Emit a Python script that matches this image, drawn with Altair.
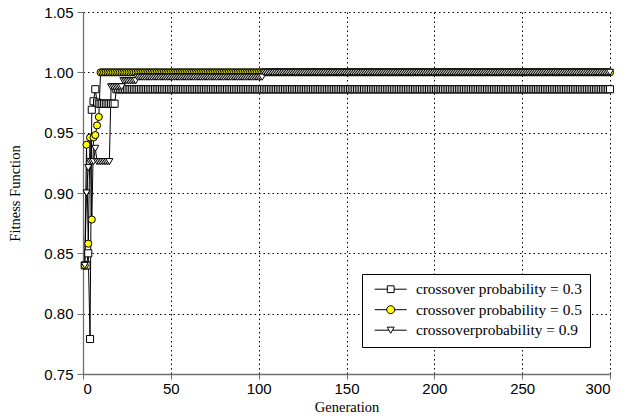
import altair as alt
import pandas as pd

# ---------------- data ----------------
SERIES = [
    "crossover probability = 0.3",
    "crossover probability = 0.5",
    "crossoverprobability = 0.9",
]
LAST_GEN = 300
# generation at which a fitness value starts; it is held until the next listed generation
GEN_A = [1, 2, 3, 4, 5, 6, 7, 8, 9, 19]
FIT_A = [0.840, 0.840, 0.850, 0.779, 0.969, 0.976, 0.986, 0.975, 0.974, 0.986]
GEN_B = [1, 2, 3, 4, 5, 6, 7, 8, 9, 10]
FIT_B = [0.840, 0.940, 0.858, 0.946, 0.878, 0.946, 0.948, 0.956, 0.963, 1.000]
GEN_C = [1, 2, 3, 4, 7, 8, 16, 23, 31, 103]
FIT_C = [0.840, 0.900, 0.921, 0.926, 0.937, 0.926, 0.988, 0.993, 0.996, 1.000]
X_TICKS = [0, 50, 100, 150, 200, 250, 300]
Y_TICKS = [0.75, 0.80, 0.85, 0.90, 0.95, 1.00, 1.05]

# ---------------- styles ----------------
FILLS = ["white", "#FFFF00", "white"]
STROKES = ["black", "black", "black"]
SHAPES = ["square", "circle", "triangle-down"]
LEG_SHAPES = [
    "M-3.2,0H-0.68M0.68,0H3.2M-0.68,-0.68H0.68V0.68H-0.68Z",
    "M-3.2,0H-0.8M0.8,0H3.2M0.8,0A0.8,0.8,0,1,1,-0.8,0A0.8,0.8,0,1,1,0.8,0Z",
    "M-3.2,0H-0.35M0.35,0H3.2M0,0.61L0.7,-0.61H-0.7Z",
]
SANS = "Liberation Sans"
SERIF = "Liberation Serif"
AXIS_GRAY = "#707070"
GRID_DASH = [1.5, 3]

rows = []
for name, gens, fits in zip(SERIES, [GEN_A, GEN_B, GEN_C], [FIT_A, FIT_B, FIT_C]):
    k = 0
    for g in range(1, LAST_GEN + 1):
        while k + 1 < len(gens) and gens[k + 1] <= g:
            k += 1
        rows.append({"series": name, "gen": g, "fit": fits[k]})
df = pd.DataFrame(rows)

x_scale = alt.Scale(domain=[0, 300], nice=False)
y_scale = alt.Scale(domain=[0.75, 1.05], nice=False, zero=False)

x_axis = alt.Axis(
    values=X_TICKS, format="d", title="Generation",
    labelFont=SANS, labelFontSize=15, labelColor="black", labelPadding=2,
    tickSize=5, tickColor=AXIS_GRAY, domainColor=AXIS_GRAY, domainWidth=1.3,
    grid=True, gridColor="black", gridDash=GRID_DASH, gridWidth=1, gridOpacity=1,
    titleFont=SERIF, titleFontSize=14.5, titleFontWeight="normal", titleColor="black",
    titleX=263.5, titleY=33, titleBaseline="middle",
)
y_axis = alt.Axis(
    values=Y_TICKS, format=".2f", title="Fitness Function",
    labelFont=SANS, labelFontSize=15, labelColor="black", labelPadding=4,
    tickSize=6, tickColor=AXIS_GRAY, domainColor=AXIS_GRAY, domainWidth=1.3,
    grid=True, gridColor="black", gridDash=GRID_DASH, gridWidth=1, gridOpacity=1,
    titleFont=SERIF, titleFontSize=14.5, titleFontWeight="normal", titleColor="black",
    titleX=-68, titleY=181, titleBaseline="middle",
)


def xe():
    return alt.X("gen:Q", scale=x_scale, axis=x_axis)


def ye():
    return alt.Y("fit:Q", scale=y_scale, axis=y_axis)


lines = alt.Chart(df).mark_line(color="black", strokeWidth=1).encode(
    x=xe(), y=ye(), detail="series:N"
)

points = alt.Chart(df).mark_point(
    filled=True, stroke="black", strokeWidth=1, opacity=1, size=50
).encode(
    x=xe(), y=ye(),
    shape=alt.Shape("series:N", scale=alt.Scale(domain=SERIES, range=SHAPES), legend=None),
    fill=alt.Fill("series:N", scale=alt.Scale(domain=SERIES, range=FILLS), legend=None),
)

leg = dict(
    title=None, orient="none", legendX=279, legendY=262,
    strokeColor="black", fillColor="white", padding=7.5,
    labelFont=SERIF, labelFontSize=15.4, labelColor="black", labelLimit=400,
    labelOffset=17.5, symbolOffset=13.5, rowPadding=3.5,
    symbolStrokeWidth=1,
)
legend_layer = alt.Chart(df).transform_filter("false").mark_point(
    filled=True, strokeWidth=1, opacity=1, size=100
).encode(
    x=xe(), y=ye(),
    shape=alt.Shape("series:N", scale=alt.Scale(domain=SERIES, range=LEG_SHAPES),
                    legend=alt.Legend(**leg)),
    fill=alt.Fill("series:N", scale=alt.Scale(domain=SERIES, range=FILLS),
                  legend=alt.Legend(**leg)),
    stroke=alt.Stroke("series:N", scale=alt.Scale(domain=SERIES, range=STROKES),
                      legend=alt.Legend(**leg)),
)

chart = (
    alt.layer(lines, points, legend_layer)
    .resolve_scale(shape="independent", fill="independent", stroke="independent")
    .properties(
        width=527, height=362,
        padding={"left": 83, "top": 12, "right": 16, "bottom": 44},
        autosize=alt.AutoSizeParams(type="none"),
        background="white",
    )
    .configure_view(stroke=None)
)

chart.save("out.html", embed_options={"renderer": "svg", "actions": False})
